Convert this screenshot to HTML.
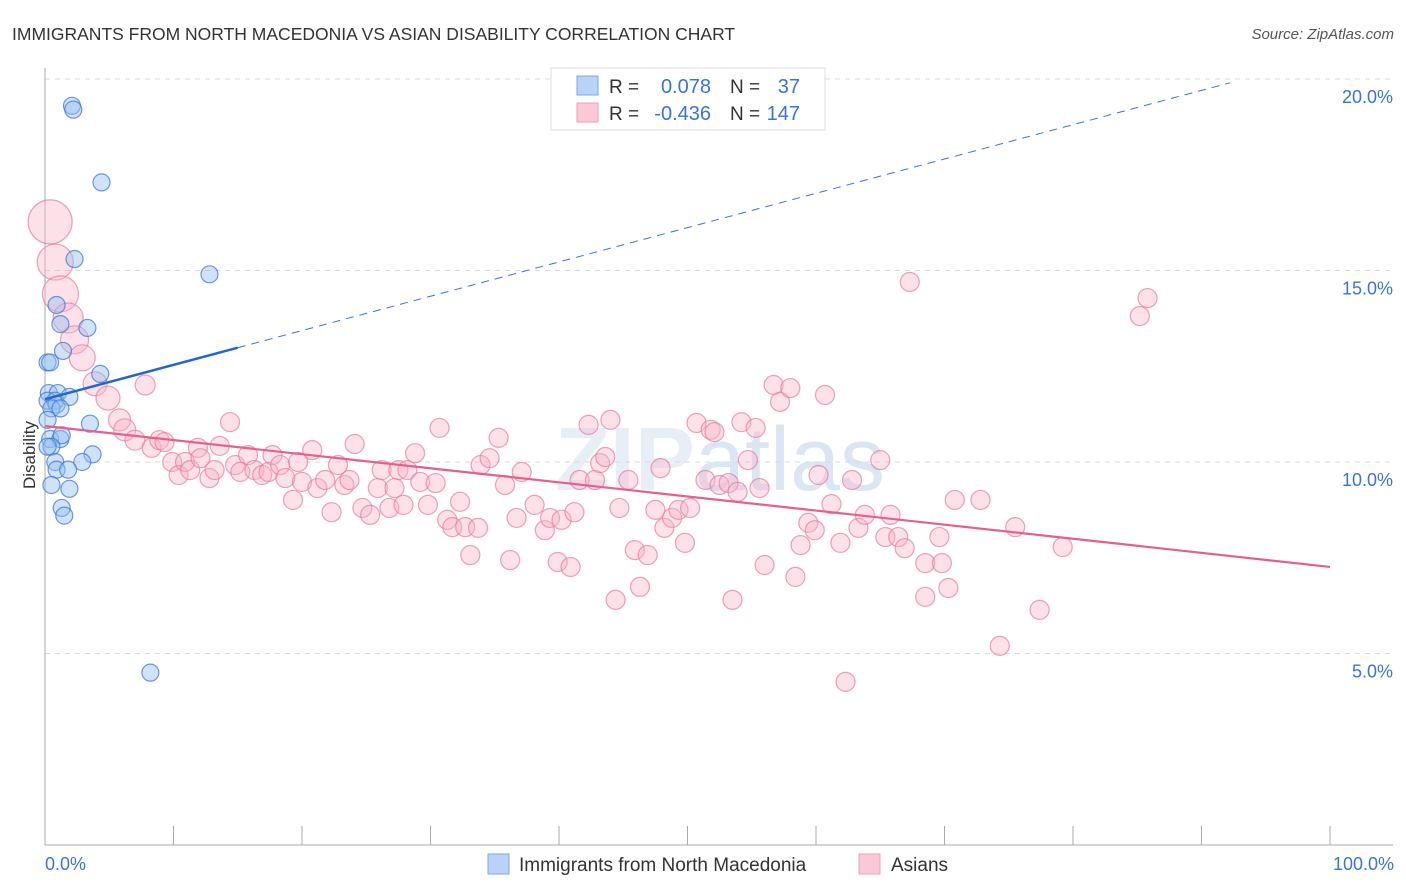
<!DOCTYPE html>
<html><head><meta charset="utf-8"><style>
body{margin:0;background:#fff;font-family:"Liberation Sans",sans-serif;}
svg{display:block}
</style></head><body>
<svg id="chart" width="1406" height="892">
<text x="12" y="40" font-size="17.5" fill="#333">IMMIGRANTS FROM NORTH MACEDONIA VS ASIAN DISABILITY CORRELATION CHART</text>
<text x="1394" y="39" font-size="15" fill="#555" font-style="italic" text-anchor="end">Source: ZipAtlas.com</text>
<text x="720" y="490" font-size="90" fill="#e8eef6" text-anchor="middle" font-weight="bold">ZIP<tspan font-weight="normal" fill="#dbe6f4">atlas</tspan></text>
<g id="grid"></g>
<g id="axes"></g>
<g id="pink"></g>
<g id="blue"></g>
<g id="trends"></g>
<text x="35" y="455" font-size="17" fill="#333" text-anchor="middle" transform="rotate(-90 35 455)">Disability</text>
<text x="45" y="870" font-size="18" fill="#3a74d6">0.0%</text>
<text x="1394" y="870" font-size="18" fill="#3a74d6" text-anchor="end">100.0%</text>
<g>
<rect x="551" y="68" width="274" height="62" fill="#fff" stroke="#ddd"/>
<rect x="577" y="76" width="21" height="19" fill="#b8d3f5" stroke="#7aa7e6"/>
<rect x="577" y="103" width="21" height="19" fill="#fbc8d6" stroke="#eea1b8"/>
<text x="609" y="93" font-size="19" fill="#333">R =</text><text x="711" y="93" font-size="20" fill="#3a74d6" text-anchor="end">0.078</text>
<text x="730" y="93" font-size="19" fill="#333">N =</text><text x="800" y="93" font-size="20" fill="#3a74d6" text-anchor="end">37</text>
<text x="609" y="120" font-size="19" fill="#333">R =</text><text x="711" y="120" font-size="20" fill="#3a74d6" text-anchor="end">-0.436</text>
<text x="730" y="120" font-size="19" fill="#333">N =</text><text x="800" y="120" font-size="20" fill="#3a74d6" text-anchor="end">147</text>
</g>
<g>
<rect x="488" y="854" width="21" height="20" fill="#b8d3f5" stroke="#7aa7e6"/>
<text x="519" y="871" font-size="19" fill="#333">Immigrants from North Macedonia</text>
<rect x="859" y="854" width="21" height="20" fill="#fbc8d6" stroke="#eea1b8"/>
<text x="891" y="871" font-size="19" fill="#333">Asians</text>
</g>
</svg>
<script>
const yTicks=[5,10,15,20];
const xTicks=[0,10,20,30,40,50,60,70,80,90,100];
const blueX=[2.1,2.2,4.4,2.3,12.8,0.9,3.3,1.2,1.4,0.2,0.4,4.3,0.3,1.0,0.2,0.8,0.9,1.9,0.5,1.2,0.2,3.5,0.4,1.2,1.3,0.5,0.2,3.7,0.8,2.9,0.9,1.8,0.5,1.9,1.3,1.5,8.2];
const blueY=[19.3,19.2,17.3,15.3,14.9,14.1,13.5,13.6,12.9,12.6,12.6,12.3,11.8,11.8,11.6,11.6,11.5,11.7,11.4,11.4,11.1,11.0,10.6,10.6,10.7,10.4,10.4,10.2,10.0,10.0,9.8,9.8,9.4,9.3,8.8,8.6,4.5];
const pinkX=[0.4,0.8,1.2,1.8,2.3,2.9,3.9,4.9,5.8,6.2,
7.0,7.8,8.3,8.9,9.3,9.9,10.4,10.9,11.3,11.9,
12.1,12.8,13.2,13.6,14.4,14.8,15.2,15.8,16.3,16.9,
17.4,17.7,18.3,18.7,19.3,19.7,20.0,20.8,21.2,21.8,
22.3,22.8,23.3,23.7,24.1,24.7,25.3,25.9,26.2,26.8,
27.2,27.5,27.9,28.2,28.8,29.2,29.8,30.4,30.7,31.3,
31.7,32.3,32.7,33.1,33.7,33.9,34.6,35.3,35.8,36.2,
36.7,37.1,38.1,38.9,39.3,39.9,40.2,40.9,41.2,41.6,
42.3,42.8,43.2,43.6,44.0,44.4,44.7,45.4,45.9,46.3,
46.9,47.5,47.9,48.2,48.8,49.3,49.8,50.2,50.7,51.4,
51.8,52.1,52.5,53.2,53.5,53.9,54.2,54.7,55.3,55.6,
56.0,56.7,57.2,58.0,58.4,58.8,59.4,59.9,60.2,60.7,
61.2,61.9,62.3,62.8,63.3,63.8,65.0,65.4,65.8,66.4,
66.9,67.3,68.5,68.5,69.6,69.8,70.3,70.8,72.8,74.3,
75.5,77.4,79.2,85.2,85.8];
const pinkY=[16.27,15.22,14.39,13.76,13.19,12.72,12.04,11.67,11.1,10.84,
10.57,12.01,10.37,10.57,10.52,10.0,9.66,10.0,9.79,10.37,
10.1,9.58,9.79,10.42,11.04,9.92,9.74,10.18,9.79,9.66,
9.74,10.18,9.92,9.58,9.01,10.0,9.48,10.31,9.32,9.53,
8.69,9.92,9.4,9.53,10.47,8.8,8.62,9.32,9.79,8.8,
9.32,9.79,8.88,9.79,10.23,9.48,8.88,9.45,10.89,8.49,
8.3,8.96,8.3,7.57,8.28,9.92,10.1,10.63,9.4,7.44,
8.54,9.74,8.88,8.22,8.54,7.39,8.49,7.26,8.69,9.53,
10.97,9.53,9.97,10.13,11.1,6.4,8.8,9.53,7.7,6.74,
7.57,8.75,9.84,8.28,8.54,8.75,7.89,8.8,11.02,9.53,
10.84,10.78,9.4,9.45,6.4,9.22,11.04,10.05,10.89,9.32,
7.31,12.01,11.57,11.93,7.0,7.83,8.41,8.22,9.66,11.75,
8.9,7.89,4.26,9.53,8.28,8.62,10.05,8.04,8.62,8.04,
7.75,14.7,7.36,6.48,8.04,7.36,6.71,9.01,9.01,5.2,
8.3,6.14,7.78,13.81,14.28];
const pinkR=[22,18,18,15,14,13,12,12,11,11,10,10];
const blueTrend=[11.64,19.9]; // y% at x=0 and x=92.2
const blueSolidEnd=15;
const pinkTrend=[10.94,7.26];
const NS='http://www.w3.org/2000/svg';
const X0=45,X1=1330,YB=845,YPX=38.3;
function sx(v){return X0+(X1-X0)*v/100;}
function sy(v){return YB-v*YPX;}
function mk(tag,attrs,parent){const e=document.createElementNS(NS,tag);for(const k in attrs)e.setAttribute(k,attrs[k]);parent.appendChild(e);return e;}
const grid=document.getElementById('grid'),axes=document.getElementById('axes');
yTicks.forEach(t=>{
  const l=mk('line',{x1:X0,x2:1393,y1:sy(t),y2:sy(t),stroke:'#d8d8d8','stroke-dasharray':'5,5'},grid);
  
  
  const tx=mk('text',{x:1393,y:sy(t)+24,'font-size':18,fill:'#3a74d6','text-anchor':'end'},grid);
  tx.textContent=t.toFixed(1)+'%';
  
  
});
const ya=mk('line',{x1:X0,x2:X0,y1:68,y2:YB,stroke:'#aaa'},axes);


const xa=mk('line',{x1:X0,x2:1393,y1:YB,y2:YB,stroke:'#aaa'},axes);


xTicks.forEach(t=>{
  const l=mk('line',{x1:sx(t),x2:sx(t),y1:826,y2:YB,stroke:'#aaa'},axes);
  
  
});
const pg=document.getElementById('pink');
const np=Math.min(pinkX.length,pinkY.length);
for(let i=0;i<np;i++){
  const c=mk('circle',{cx:sx(pinkX[i]),cy:sy(pinkY[i]),r:pinkR[i]||9.5,fill:'rgba(248,180,200,0.4)',stroke:'rgba(232,120,155,0.7)','stroke-width':1.2},pg);
  
  
}
const bg=document.getElementById('blue');
blueX.forEach((v,i)=>{
  const c=mk('circle',{cx:sx(v),cy:sy(blueY[i]),r:8.5,fill:'rgba(150,190,240,0.45)',stroke:'rgba(60,120,215,0.75)','stroke-width':1.2},bg);
  
  
});
const tg=document.getElementById('trends');
function by(x){return blueTrend[0]+(blueTrend[1]-blueTrend[0])*x/92.2;}
const bd=mk('line',{x1:sx(blueSolidEnd),y1:sy(by(blueSolidEnd)),x2:sx(92.2),y2:sy(by(92.2)),stroke:'#3a74d6','stroke-width':1,'stroke-dasharray':'8,6'},tg);


const bs=mk('line',{x1:sx(0),y1:sy(by(0)),x2:sx(blueSolidEnd),y2:sy(by(blueSolidEnd)),stroke:'#2266d0','stroke-width':2.5},tg);


const pl=mk('line',{x1:sx(0),y1:sy(pinkTrend[0]),x2:sx(100),y2:sy(pinkTrend[1]),stroke:'#e5608e','stroke-width':2.2},tg);


</script>
</body></html>
